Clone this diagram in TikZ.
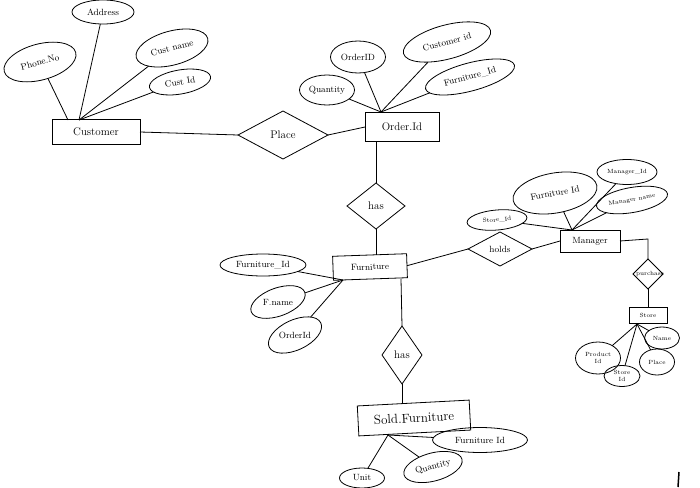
\documentclass[tikz,border=0pt]{standalone}
\usetikzlibrary{shapes.geometric}
\begin{document}
\begin{tikzpicture}[x=1pt,y=-1pt,
  every node/.style={inner sep=0pt, outer sep=0pt},
  ln/.style={draw, line width=0.8pt},
  ent/.style={rectangle, draw, line width=0.8pt},
  rel/.style={diamond, draw, line width=0.8pt},
  attr/.style={ellipse, draw, line width=0.8pt},
  lbl/.style={font=\fontsize{11}{12}\selectfont},
  slbl/.style={font=\fontsize{9}{10}\selectfont},
  tlbl/.style={font=\fontsize{6}{7}\selectfont, align=center}]
\useasboundingbox (0,0) rectangle (700,487);

% ---------- entities ----------
\node[ent, minimum width=88, minimum height=25, lbl] (cust) at (96,132) {Customer};
\node[ent, minimum width=74, minimum height=29, lbl] (order) at (402,127) {Order.Id};
\node[ent, minimum width=74, minimum height=24, rotate=2, slbl] (furn) at (370,267) {Furniture};
\node[ent, minimum width=60, minimum height=22, slbl] (mgr) at (590,241) {Manager};
\node[ent, minimum width=38, minimum height=16, tlbl] (store) at (648,315) {Store};
\node[ent, minimum width=112, minimum height=30, rotate=3, font=\fontsize{13}{14}\selectfont] (sold) at (414,418) {Sold.Furniture};

% ---------- relationships ----------
\node[rel, minimum width=90, minimum height=48, lbl] (place) at (283,135) {Place};
\node[rel, minimum width=58, minimum height=46, lbl] (has1) at (376,206) {has};
\node[rel, minimum width=64, minimum height=34, slbl] (holds) at (500,249) {holds};
\node[rel, minimum width=30, minimum height=30] (purch) at (648,274) {};
\node[tlbl] (purchlbl) at (650,274) {purchase};
\node[rel, minimum width=40, minimum height=58, lbl] (has2) at (402,355) {has};

% ---------- customer attributes ----------
\node[attr, minimum width=62, minimum height=24, slbl] (addr) at (103,12) {Address};
\node[attr, minimum width=74, minimum height=36, rotate=15, slbl] (phone) at (40,62) {Phone.No};
\node[attr, minimum width=74, minimum height=34, rotate=15, slbl] (cname) at (172,48) {Cust name};
\node[attr, minimum width=62, minimum height=24, rotate=10, slbl] (cid) at (180,82) {Cust Id};
\coordinate (cj1) at (68,120);
\coordinate (cj2) at (79,120);
\draw[ln] (phone) -- (cj1);
\draw[ln] (addr) -- (cj2);
\draw[ln] (cname) -- (cj2);
\draw[ln] (cid) -- (cj2);

% ---------- order attributes ----------
\node[attr, minimum width=55, minimum height=32, slbl] (oid) at (358,57) {OrderID};
\node[attr, minimum width=90, minimum height=34, rotate=15, slbl] (ocid) at (447,42) {Customer id};
\node[attr, minimum width=55, minimum height=30, slbl] (oqty) at (327,90) {Quantity};
\node[attr, minimum width=92, minimum height=28, rotate=15, slbl] (ofid) at (470,77) {Furniture\_Id};
\coordinate (oj) at (381,112);
\draw[ln] (oid) -- (oj);
\draw[ln] (ocid) -- (oj);
\draw[ln] (oqty) -- (oj);
\draw[ln] (ofid) -- (oj);

% ---------- furniture attributes ----------
\node[attr, minimum width=86, minimum height=22, slbl] (ffid) at (263,265) {Furniture\_Id};
\node[attr, minimum width=57, minimum height=28, rotate=20] (fname) at (278,302) {};
\node[slbl] (fnamet) at (278,302) {F.name};
\node[attr, minimum width=57, minimum height=30, rotate=25] (foid) at (295,335) {};
\node[slbl] (foidt) at (295,335) {OrderId};
\coordinate (fj) at (343,280);
\draw[ln] (ffid) -- (fj);
\draw[ln] (fname) -- (fj);
\draw[ln] (foid) -- (fj);

% ---------- manager attributes ----------
\node[attr, minimum width=85, minimum height=40, rotate=10, slbl] (mfid) at (555,193) {Furniture Id};
\node[attr, minimum width=60, minimum height=25, tlbl] (mid) at (627,172) {Manager\_Id};
\node[attr, minimum width=72, minimum height=25, rotate=10, tlbl] (mname) at (632,200) {Manager name};
\node[attr, minimum width=60, minimum height=20, rotate=5, tlbl] (msid) at (497,220) {Store\_Id};
\coordinate (mj) at (572,230);
\draw[ln] (mfid) -- (mj);
\draw[ln] (mid) -- (mj);
\draw[ln] (mname) -- (mj);
\draw[ln] (msid) -- (mj);

% ---------- store attributes ----------
\node[attr, minimum width=35, minimum height=22, tlbl] (sname) at (662,338) {Name};
\node[attr, minimum width=45, minimum height=32, tlbl] (spid) at (598,358) {Product\\Id};
\node[attr, minimum width=36, minimum height=21, tlbl] (ssid) at (622,376) {Store\\Id};
\node[attr, minimum width=35, minimum height=26, tlbl] (splace) at (657,362) {Place};
\coordinate (sj) at (637,324);
\draw[ln] (sname) -- (sj);
\draw[ln] (spid) -- (sj);
\draw[ln] (ssid) -- (sj);
\draw[ln] (splace) -- (sj);

% ---------- sold furniture attributes ----------
\node[attr, minimum width=95, minimum height=25, slbl] (sfid) at (480,440) {Furniture Id};
\node[attr, minimum width=45, minimum height=20, slbl] (sunit) at (362,478) {Unit};
\node[attr, minimum width=60, minimum height=28, rotate=15, slbl] (sqty) at (433,467) {Quantity};
\coordinate (soj) at (388,435);
\draw[ln] (sfid) -- (soj);
\draw[ln] (sunit) -- (soj);
\draw[ln] (sqty) -- (soj);

% ---------- relationship connectors ----------
\draw[ln] (cust.east) -- (place.west);
\draw[ln] (place.east) -- (order.west);
\draw[ln] (order.south -| has1.north) -- (has1.north);
\draw[ln] (has1.south) -- (furn.north -| has1.south);
\draw[ln] (furn.east) -- (holds.west);
\draw[ln] (holds.east) -- (mgr.west);
\coordinate (mcorner) at (648,239);
\draw[ln] (mgr.east) -- (mcorner) -- (purch.north);
\draw[ln] (purch.south) -- (store.north);
\coordinate (fbot) at (401,279);
\draw[ln] (fbot) -- (has2.north);
\draw[ln] (has2.south) -- (sold.north -| has2.south);

% stray pen mark
\coordinate (m1) at (679,472);
\coordinate (m2) at (678,487);
\draw[line width=1.5pt] (m1) -- (m2);
\end{tikzpicture}
\end{document}
